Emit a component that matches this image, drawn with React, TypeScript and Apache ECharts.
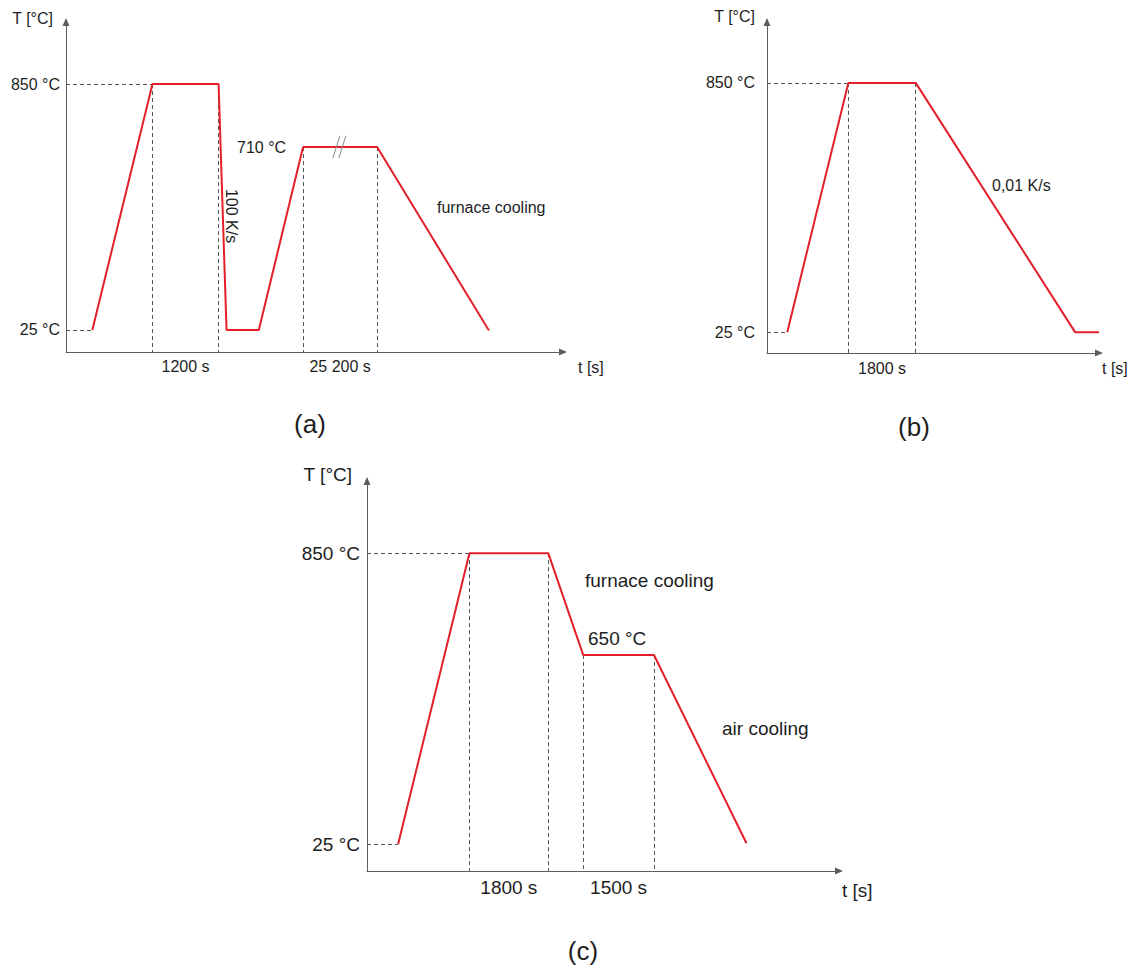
import React, { useEffect, useRef } from "react";
import * as echarts from "echarts";

// ---- Panel (a): schematic time / temperature levels (schematic units 0..100) ----
const panelA_time = [5.3, 17.4, 30.7, 32.3, 38.8, 47.7, 62.6, 85.1];
const panelA_temp = [6.7, 81.2, 81.2, 6.7, 6.7, 62.1, 62.1, 6.5];
const panelA_yTicks = [6.7, 81.2];
const panelA_yLabels = ["25 °C", "850 °C"];
const panelA_spans = [[1, 2], [5, 6]];
const panelA_spanLabels = ["1200 s", "25 200 s"];
const panelA_vGuides = [1, 2, 5, 6];
const panelA_hGuides = [0, 1];
const panelA_breakMark = [
  [53.7, 58.8, 55.1, 65.5],
  [54.9, 58.8, 56.3, 65.5],
];

// ---- Panel (b) ----
const panelB_time = [6.1, 24.5, 44.8, 92.8, 100];
const panelB_temp = [6.3, 81.6, 81.6, 6.3, 6.3];
const panelB_yTicks = [6.3, 81.6];
const panelB_yLabels = ["25 °C", "850 °C"];
const panelB_spans = [[1, 2]];
const panelB_spanLabels = ["1800 s"];
const panelB_vGuides = [1, 2];
const panelB_hGuides = [0, 1];

// ---- Panel (c) ----
const panelC_time = [6.6, 21.7, 38.4, 45.8, 60.8, 80.4];
const panelC_temp = [6.9, 81.5, 81.5, 55.4, 55.4, 7.1];
const panelC_yTicks = [6.9, 81.5];
const panelC_yLabels = ["25 °C", "850 °C"];
const panelC_spans = [[1, 2], [3, 4]];
const panelC_spanLabels = ["1800 s", "1500 s"];
const panelC_vGuides = [1, 2, 3, 4];
const panelC_hGuides = [0, 1];

const FONT = "'Liberation Sans', Arial, Helvetica, sans-serif";
const TEXT = "#1e1e1e";
const RED = "#e3202a";
const AXIS = "#5c5c5c";
const DASH = "#555555";

function nearestLabel(v: number, ticks: number[], labels: string[]) {
  let best = 0;
  for (let i = 1; i < ticks.length; i++) {
    if (Math.abs(ticks[i] - v) < Math.abs(ticks[best] - v)) best = i;
  }
  return labels[best];
}

export default function App() {
  const ref = useRef<HTMLDivElement>(null);

  useEffect(() => {
    if (!ref.current) return;
    const chart = echarts.init(ref.current, null, { renderer: "svg" });

    const panels = [
      {
        grid: { left: 66, top: 22, width: 497, height: 330 },
        t: panelA_time, T: panelA_temp, yTicks: panelA_yTicks, yLabels: panelA_yLabels,
        spans: panelA_spans, spanLabels: panelA_spanLabels, v: panelA_vGuides, h: panelA_hGuides,
        fs: 16, xm: 6, ym: 6,
      },
      {
        grid: { left: 767, top: 22, width: 332, height: 331 },
        t: panelB_time, T: panelB_temp, yTicks: panelB_yTicks, yLabels: panelB_yLabels,
        spans: panelB_spans, spanLabels: panelB_spanLabels, v: panelB_vGuides, h: panelB_hGuides,
        fs: 16, xm: 7, ym: 12,
      },
      {
        grid: { left: 367, top: 481, width: 472, height: 390 },
        t: panelC_time, T: panelC_temp, yTicks: panelC_yTicks, yLabels: panelC_yLabels,
        spans: panelC_spans, spanLabels: panelC_spanLabels, v: panelC_vGuides, h: panelC_hGuides,
        fs: 19, xm: 7, ym: 7,
      },
    ];

    const grids: any[] = [];
    const xAxes: any[] = [];
    const yAxes: any[] = [];
    const series: any[] = [];

    panels.forEach((p, i) => {
      grids.push({ ...p.grid, containLabel: false });
      const mids = p.spans.map(([a, b]) => (p.t[a] + p.t[b]) / 2);
      xAxes.push({
        gridIndex: i, type: "value", min: 0, max: 100,
        axisLine: { show: true, lineStyle: { color: AXIS, width: 1 }, symbol: ["none", "triangle"], symbolSize: [7, 8] },
        axisTick: { show: false }, splitLine: { show: false },
        axisLabel: {
          customValues: mids, margin: p.xm, fontSize: p.fs, color: TEXT, fontFamily: FONT,
          formatter: (v: number) => nearestLabel(v, mids, p.spanLabels),
        },
      });
      yAxes.push({
        gridIndex: i, type: "value", min: 0, max: 100,
        axisLine: { show: true, lineStyle: { color: AXIS, width: 1 }, symbol: ["none", "triangle"], symbolSize: [7, 8] },
        axisTick: { show: false }, splitLine: { show: false },
        axisLabel: {
          customValues: p.yTicks, margin: p.ym, fontSize: p.fs, color: TEXT, fontFamily: FONT,
          formatter: (v: number) => nearestLabel(v, p.yTicks, p.yLabels),
        },
      });
      const guides: any[] = [];
      p.v.forEach((k) => guides.push({ coords: [[p.t[k], p.T[k]], [p.t[k], 0]] }));
      p.h.forEach((k) => guides.push({ coords: [[0, p.T[k]], [p.t[k], p.T[k]]] }));
      series.push({
        type: "lines", coordinateSystem: "cartesian2d", xAxisIndex: i, yAxisIndex: i,
        data: guides, silent: true, z: 1,
        lineStyle: { color: DASH, width: 1, type: [4, 3], opacity: 1 },
      });
      series.push({
        type: "line", xAxisIndex: i, yAxisIndex: i, data: p.t.map((x, k) => [x, p.T[k]]),
        symbol: "none", clip: false, z: 3, silent: true,
        lineStyle: { color: RED, width: 2 },
      });
    });

    series.push({
      type: "lines", coordinateSystem: "cartesian2d", xAxisIndex: 0, yAxisIndex: 0,
      data: panelA_breakMark.map(([x1, y1, x2, y2]) => ({ coords: [[x1, y1], [x2, y2]] })),
      silent: true, z: 4,
      lineStyle: { color: "#8a8a8a", width: 1, opacity: 1 },
    });

    const txt = (text: string, x: number, y: number, fs: number, align = "left", rotation = 0) => ({
      type: "text", x, y, rotation, silent: true,
      style: { text, fill: TEXT, font: `${fs}px ${FONT}`, align, verticalAlign: "middle" },
    });

    const graphic = [
      txt("T [°C]", 53, 18, 16, "right"),
      txt("710 °C", 237, 147, 16),
      txt("100 K/s", 231.5, 216, 16, "center", -Math.PI / 2),
      txt("furnace cooling", 437, 207, 16),
      txt("t [s]", 578, 367, 16),
      txt("(a)", 310, 424, 26, "center"),

      txt("T [°C]", 755, 16, 16, "right"),
      txt("0,01 K/s", 992, 185, 16),
      txt("t [s]", 1102, 368, 16),
      txt("(b)", 914, 427, 26, "center"),

      txt("T [°C]", 352, 474, 19, "right"),
      txt("furnace cooling", 585, 580, 19),
      txt("650 °C", 588, 638, 19),
      txt("air cooling", 722, 728, 19),
      txt("t [s]", 842, 890, 19),
      txt("(c)", 583, 951, 26, "center"),
    ];

    chart.setOption({
      animation: false,
      backgroundColor: "#ffffff",
      grid: grids,
      xAxis: xAxes,
      yAxis: yAxes,
      series,
      graphic,
    });

    return () => chart.dispose();
  }, []);

  return (
    <div
      ref={ref}
      style={{ position: "absolute", left: 0, top: 0, width: 1134, height: 965 }}
    />
  );
}
